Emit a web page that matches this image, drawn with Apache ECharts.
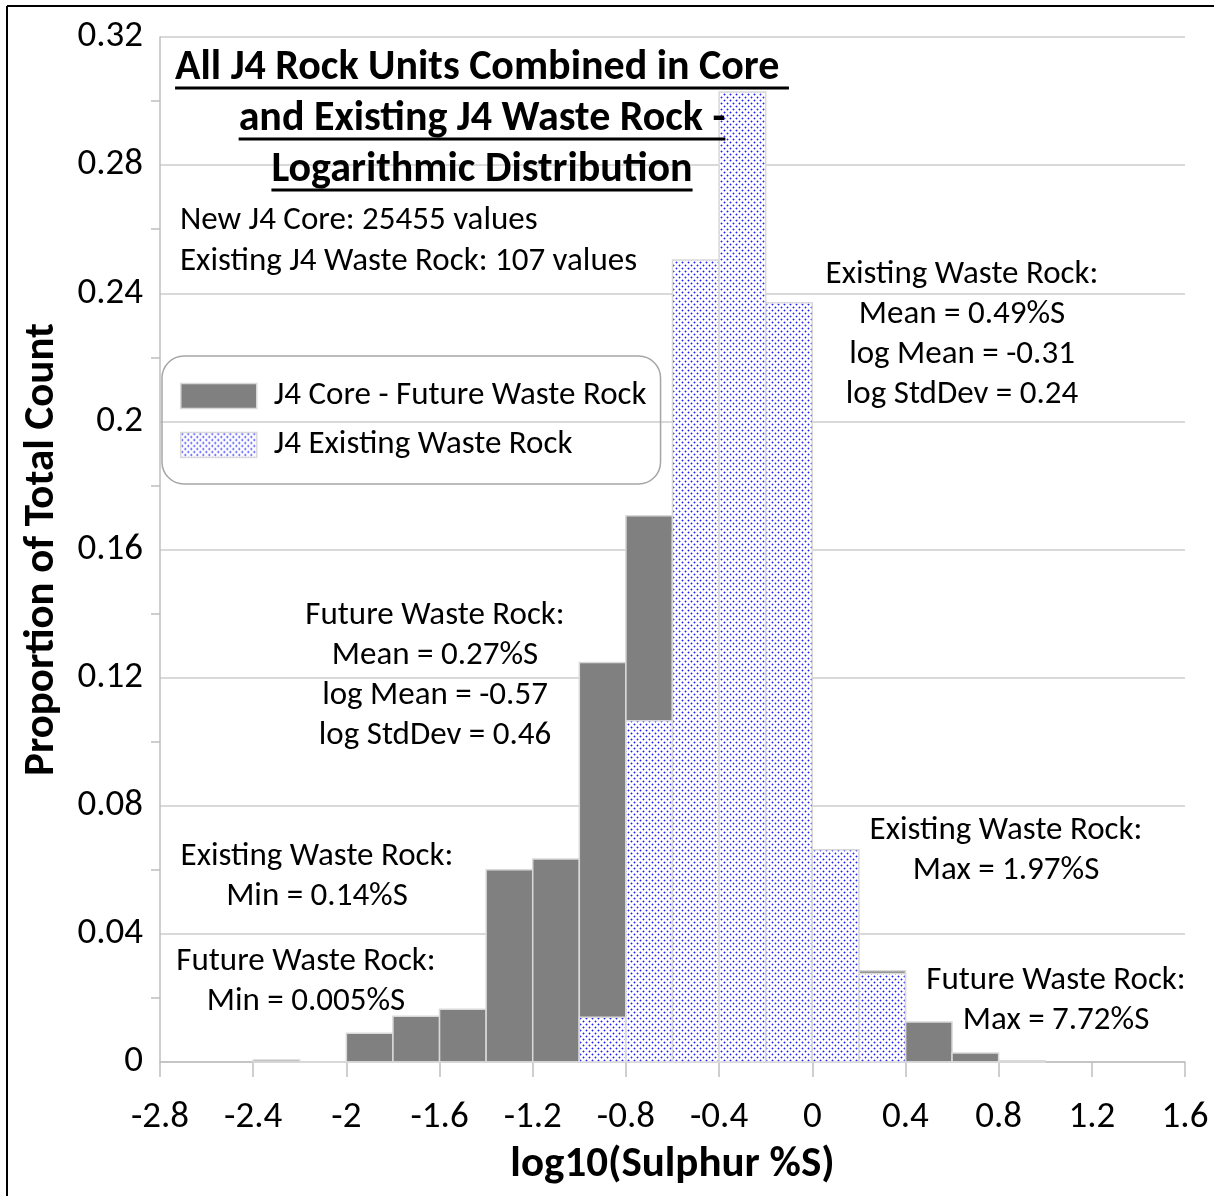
<!DOCTYPE html>
<html>
<head>
<meta charset="utf-8">
<script src="https://cdn.jsdelivr.net/npm/echarts@6/dist/echarts.min.js"></script>
<style>
  html, body { margin: 0; padding: 0; background: #fff; }
  #chart { width: 1214px; height: 1196px; }
</style>
</head>
<body>
<div id="chart"></div>
<script>
// Histogram bins of log10(S%), left edges, width 0.2
const binStarts = [-2.4, -2.2, -2.0, -1.8, -1.6, -1.4, -1.2, -1.0, -0.8, -0.6, -0.4, -0.2, 0.0, 0.2, 0.4, 0.6, 0.8];
const binWidth = 0.2;
// Proportion of total count per bin
const futureCore = [0.0006, 0, 0.009, 0.0143, 0.0165, 0.060, 0.0634, 0.1247, 0.1705, 0.165, 0.13, 0.085, 0.05, 0.0285, 0.0125, 0.0028, 0.0004];
const existingWaste = [0, 0, 0, 0, 0, 0, 0, 0.014, 0.1065, 0.2504, 0.3028, 0.2370, 0.0663, 0.0276, 0, 0, 0];
const seriesNames = ['J4 Core - Future Waste Rock', 'J4 Existing Waste Rock'];
const titleLines = ['All J4 Rock Units Combined in Core ', 'and Existing J4 Waste Rock -', 'Logarithmic Distribution'];
const countLines = ['New J4 Core: 25455 values', 'Existing J4 Waste Rock: 107 values'];
const existingStats = ['Existing Waste Rock:', 'Mean = 0.49%S', 'log Mean = -0.31', 'log StdDev = 0.24'];
const futureStats = ['Future Waste Rock:', 'Mean = 0.27%S', 'log Mean = -0.57', 'log StdDev = 0.46'];
const existingMin = ['Existing Waste Rock:', 'Min = 0.14%S'];
const futureMin = ['Future Waste Rock:', 'Min = 0.005%S'];
const existingMax = ['Existing Waste Rock:', 'Max = 1.97%S'];
const futureMax = ['Future Waste Rock:', 'Max = 7.72%S'];

const FONT = 'Carlito, Lato, "Noto Sans", sans-serif';
const TEXT_SIZE = 33;
const TICK_SIZE = 37;
const NAME_SIZE = 43;

// dotted blue fill pattern: staggered single dots with a soft halo
function makeDots() {
  const c = document.createElement('canvas');
  c.width = 6; c.height = 6;
  const g = c.getContext('2d');
  g.fillStyle = '#ffffff';
  g.fillRect(0, 0, 6, 6);
  const halo = '#a4a4ff';
  [[1, 1], [4, 4]].forEach(([x, y]) => {
    g.fillStyle = halo;
    g.fillRect(x - 1, y, 1, 1);
    g.fillRect(x + 1, y, 1, 1);
    g.fillRect(x, y - 1, 1, 1);
    g.fillRect(x, y + 1, 1, 1);
    g.fillStyle = '#1e1eff';
    g.fillRect(x, y, 1, 1);
  });
  return c;
}
const dotPattern = { image: makeDots(), repeat: 'repeat' };
const GREY = '#808080';
const EDGE = '#d9d9d9';

function measure(text, font) {
  const c = document.createElement('canvas').getContext('2d');
  c.font = font;
  return c.measureText(text).width;
}

function histSeries(name, values, fill, z) {
  return {
    name: name,
    type: 'custom',
    z: z,
    itemStyle: { color: fill, borderColor: EDGE },
    data: binStarts.map((s, i) => [s, s + binWidth, values[i]]),
    encode: { x: [0, 1], y: 2 },
    renderItem: function (params, api) {
      const tl = api.coord([api.value(0), api.value(2)]);
      const br = api.coord([api.value(1), 0]);
      return {
        type: 'rect',
        shape: { x: tl[0], y: tl[1], width: br[0] - tl[0], height: br[1] - tl[1] },
        style: { fill: fill, stroke: EDGE, lineWidth: 1.5 }
      };
    }
  };
}

// text blocks: lines stacked from a first-line centre
function block(lines, cx, y0, step, align) {
  return lines.map((t, i) => ({
    type: 'text',
    x: cx, y: y0 + i * step,
    z: 50,
    style: {
      text: t, fill: '#000',
      font: TEXT_SIZE + 'px ' + FONT,
      textAlign: align || 'center', textVerticalAlign: 'middle'
    }
  }));
}

const TITLE_FONT = 'bold 42px ' + FONT;
const titleX = 482;
const titleY = [68, 119, 170];
const titleGraphics = [];
titleLines.forEach((t, i) => {
  titleGraphics.push({
    type: 'text', x: titleX, y: titleY[i], z: 50,
    style: { text: t, fill: '#000', font: TITLE_FONT, textAlign: 'center', textVerticalAlign: 'middle' }
  });
  const w = measure(t, TITLE_FONT);
  titleGraphics.push({
    type: 'line', z: 50,
    shape: { x1: titleX - w / 2, y1: titleY[i] + 20, x2: titleX + w / 2, y2: titleY[i] + 20 },
    style: { stroke: '#000', lineWidth: 3 }
  });
});

const chart = echarts.init(document.getElementById('chart'), null, { renderer: 'canvas' });
chart.setOption({
  animation: false,
  backgroundColor: '#fff',
  textStyle: { fontFamily: FONT },
  grid: { left: 160, right: 29, top: 37, bottom: 134, containLabel: false },
  legend: {
    left: 162, top: 356,
    orient: 'vertical',
    padding: [22, 14, 21, 18],
    itemGap: 13,
    itemWidth: 76, itemHeight: 25,
    borderColor: '#a6a6a6', borderWidth: 1.5, borderRadius: 22,
    backgroundColor: 'transparent',
    textStyle: { fontSize: TEXT_SIZE, lineHeight: 36, color: '#000', fontFamily: FONT, padding: [0, 0, 0, 12] },
    data: [
      { name: seriesNames[0], icon: 'rect', itemStyle: { color: GREY, borderColor: EDGE, borderWidth: 1.5 } },
      { name: seriesNames[1], icon: 'rect', itemStyle: { color: dotPattern, borderColor: EDGE, borderWidth: 1.5 } }
    ]
  },
  xAxis: {
    type: 'value',
    min: -2.8, max: 1.6, interval: 0.4,
    name: 'log10(Sulphur %S)',
    nameLocation: 'middle',
    nameGap: 82,
    nameTextStyle: { fontSize: NAME_SIZE, fontWeight: 'bold', color: '#000', fontFamily: FONT },
    axisLine: { show: true, onZero: false, lineStyle: { color: '#bfbfbf', width: 1.5 } },
    axisTick: { show: true, length: 15, lineStyle: { color: '#bfbfbf', width: 1.5 } },
    axisLabel: { fontSize: TICK_SIZE, color: '#000', margin: 37, formatter: v => String(+v.toFixed(1)) },
    splitLine: { show: false }
  },
  yAxis: {
    type: 'value',
    min: 0, max: 0.32, interval: 0.04,
    name: 'Proportion of Total Count',
    nameLocation: 'middle',
    nameGap: 96,
    nameTextStyle: { fontSize: NAME_SIZE, fontWeight: 'bold', color: '#000', fontFamily: FONT },
    axisLine: { show: true, onZero: false, lineStyle: { color: '#bfbfbf', width: 1.5 } },
    axisTick: { show: false },
    minorTick: { show: true, splitNumber: 2, length: 9, lineStyle: { color: '#bfbfbf', width: 1.5 } },
    axisLabel: { fontSize: TICK_SIZE, color: '#000', margin: 17, formatter: v => String(+v.toFixed(2)) },
    splitLine: { show: true, lineStyle: { color: '#d9d9d9', width: 2 } }
  },
  series: [
    histSeries(seriesNames[0], futureCore, GREY, 2),
    histSeries(seriesNames[1], existingWaste, dotPattern, 3)
  ],
  graphic: [
    { type: 'line', shape: { x1: 7, y1: 6, x2: 1214, y2: 6 }, style: { stroke: '#000', lineWidth: 2 } },
    { type: 'line', shape: { x1: 7, y1: 6, x2: 7, y2: 1196 }, style: { stroke: '#000', lineWidth: 2 } },
    ...titleGraphics,
    ...block(countLines, 180, 221, 41, 'left'),
    ...block(existingStats, 962, 275, 40),
    ...block(futureStats, 435, 616, 40),
    ...block(existingMin, 317, 857, 40),
    ...block(futureMin, 306, 962, 40),
    ...block(existingMax, 1006, 831, 40),
    ...block(futureMax, 1056, 981, 40)
  ]
});
</script>
</body>
</html>
